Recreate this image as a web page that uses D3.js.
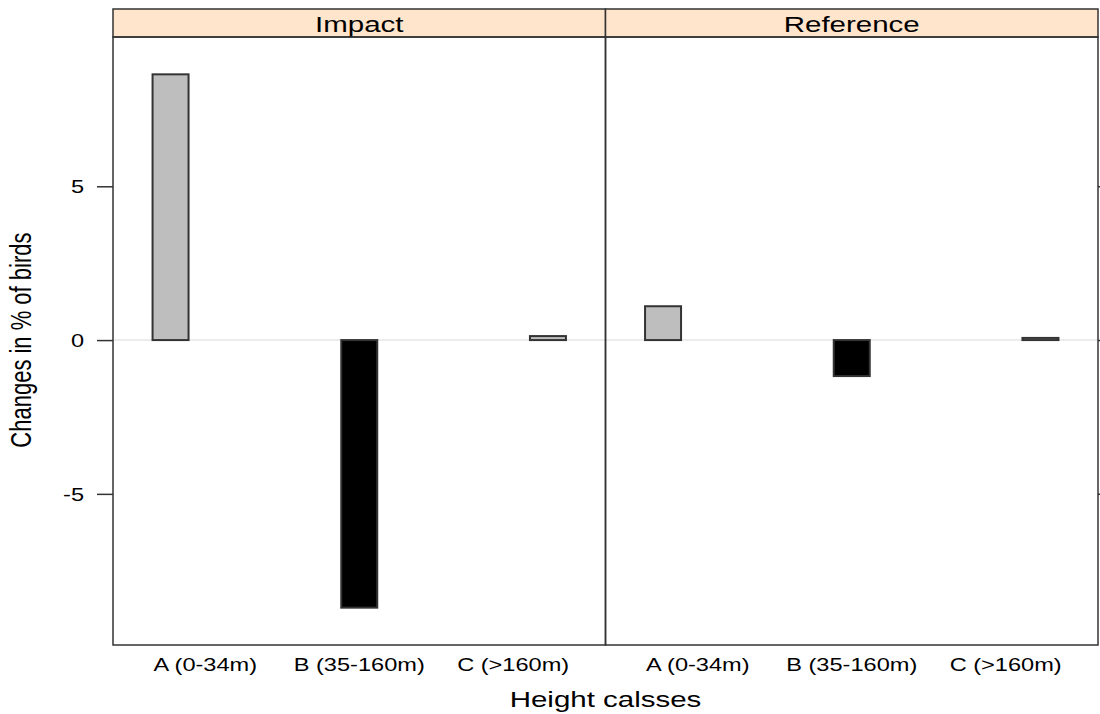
<!DOCTYPE html>
<html>
<head>
<meta charset="utf-8">
<script src="https://cdn.jsdelivr.net/npm/d3@7"></script>
<style>
   body { margin: 0; background: #fff; }
   text { font-family: 'Liberation Sans', Arial, sans-serif; fill: #000; }
</style>
</head>
<body>
<div id="container"></div>
<script>
// chart data
const panels = ['Impact', 'Reference'];
const classes = ['A (0-34m)', 'B (35-160m)', 'C (>160m)'];
const impactValues = [8.64, -8.70, 0.13];
const referenceValues = [1.10, -1.17, 0.07];
const yTicks = [-5, 0, 5];
const barColors = ['#bebebe', '#000000', '#bebebe'];

document.addEventListener('DOMContentLoaded', function() {
   const w = 1100;
   const h = 714;
   const left = 113, right = 1098, top = 9, stripH = 28, bottom = 645;
   const sx = 1.34; // the source picture is stretched sideways

   const series = [impactValues, referenceValues];
   let rows = [];
   panels.forEach((p, i) => {
      classes.forEach((c, j) => {
         rows.push({ panel: p, cls: c, value: series[i][j], idx: j });
      });
   });

   const svg = d3
      .select('#container')
      .append('svg')
      .attr('width', w)
      .attr('height', h);

   const panelX = d3.scaleBand().domain(panels).range([left, right]);

   const ext = d3.extent(rows, d => d.value);
   const pad = (ext[1] - ext[0]) * 0.07;
   const y = d3
      .scaleLinear()
      .domain([ext[0] - pad, ext[1] + pad])
      .range([bottom, top + stripH]);

   // bars sit at one spacing, the tick labels at lattice's usual one
   const barX = d3.scalePoint().domain(classes).range([0, panelX.bandwidth()]).padding(0.305);
   const labelX = d3.scalePoint().domain(classes).range([0, panelX.bandwidth()]).padding(0.6);
   const barW = 36;

   // zero reference line
   svg.append('line')
      .attr('x1', left)
      .attr('x2', right)
      .attr('y1', y(0))
      .attr('y2', y(0))
      .attr('stroke', '#e6e6e6')
      .attr('stroke-width', 1.5);

   const panel = svg.selectAll('g.panel')
      .data(panels)
      .enter()
      .append('g')
      .attr('class', 'panel')
      .attr('transform', d => 'translate(' + panelX(d) + ',0)');

   panel.selectAll('rect.bar')
      .data(p => rows.filter(r => r.panel === p))
      .enter()
      .append('rect')
      .attr('class', 'bar')
      .attr('x', d => barX(d.cls) - barW / 2)
      .attr('y', d => y(Math.max(0, d.value)))
      .attr('width', barW)
      .attr('height', d => Math.abs(y(d.value) - y(0)))
      .attr('fill', d => barColors[d.idx])
      .attr('stroke', '#333')
      .attr('stroke-width', 2);

   // strips
   panel.append('rect')
      .attr('x', 0)
      .attr('y', top)
      .attr('width', panelX.bandwidth())
      .attr('height', stripH)
      .attr('fill', '#ffe5cc')
      .attr('stroke', '#333')
      .attr('stroke-width', 1.5);

   panel.append('text')
      .attr('transform', 'translate(' + panelX.bandwidth() / 2 + ',' + (top + 23) + ') scale(' + sx + ',1)')
      .attr('text-anchor', 'middle')
      .style('font-size', '22px')
      .text(d => d);

   panel.append('rect')
      .attr('x', 0)
      .attr('y', top + stripH)
      .attr('width', panelX.bandwidth())
      .attr('height', bottom - top - stripH)
      .attr('fill', 'none')
      .attr('stroke', '#333')
      .attr('stroke-width', 1.5);

   // x tick labels
   panel.selectAll('text.xtick')
      .data(classes)
      .enter()
      .append('text')
      .attr('class', 'xtick')
      .attr('transform', d => 'translate(' + labelX(d) + ',671) scale(' + sx + ',1)')
      .attr('text-anchor', 'middle')
      .style('font-size', '17.6px')
      .text(d => d);

   // y axes, left with labels, right with ticks only
   const yAxisL = svg.append('g').attr('transform', 'translate(' + left + ',0)')
      .call(d3.axisLeft(y).tickValues(yTicks).tickSize(16).tickFormat(d3.format('d')));
   yAxisL.select('.domain').remove();
   yAxisL.selectAll('line').attr('stroke', '#333').attr('stroke-width', 1.5);
   yAxisL.selectAll('text')
      .attr('x', null)
      .attr('dy', null)
      .attr('dominant-baseline', 'central')
      .attr('transform', 'translate(-29,0) scale(' + sx + ',1)')
      .style('font-size', '17.6px')
      .style('font-family', "'Liberation Sans', Arial, sans-serif")
      .text(d => (d < 0 ? '-' : '') + Math.abs(d));

   const yAxisR = svg.append('g').attr('transform', 'translate(' + right + ',0)')
      .call(d3.axisRight(y).tickValues(yTicks).tickSize(16).tickFormat(''));
   yAxisR.select('.domain').remove();
   yAxisR.selectAll('line').attr('stroke', '#333').attr('stroke-width', 1.5);

   // axis titles
   svg.append('text')
      .attr('transform', 'translate(' + (left + right) / 2 + ',707) scale(' + sx + ',1)')
      .attr('text-anchor', 'middle')
      .style('font-size', '22px')
      .text('Height calsses');

   svg.append('text')
      .attr('transform', 'translate(31,' + y(0) + ') scale(' + sx + ',1) rotate(-90)')
      .attr('text-anchor', 'middle')
      .style('font-size', '22px')
      .text('Changes in % of birds');
});
</script>
</body>
</html>
